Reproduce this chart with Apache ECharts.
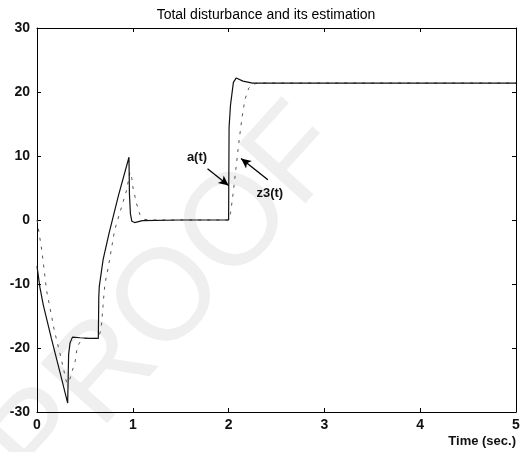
<!DOCTYPE html>
<html>
<head>
<meta charset="utf-8">
<script src="https://cdn.jsdelivr.net/npm/echarts@6/dist/echarts.min.js"></script>
<style>
html,body{margin:0;padding:0;background:#fff;}
#chart{width:532px;height:452px;}
</style>
</head>
<body>
<div id="chart"></div>
<script>
// ---- data ----
var titleText = 'Total disturbance and its estimation';
var xTicks = [0, 1, 2, 3, 4, 5];
var yTicks = [-30, -20, -10, 0, 10, 20, 30];

// a(t): solid line (time, value)
var aTime  = [0, 0.03, 0.066, 0.15, 0.25, 0.32, 0.325, 0.33, 0.345, 0.37, 0.45, 0.55, 0.64, 0.645, 0.65, 0.69, 0.75, 0.85, 0.96, 0.965, 0.975, 0.99, 1.02, 1.1, 1.5, 2.0, 2.005, 2.02, 2.05, 2.08, 2.15, 2.25, 5];
var aValue = [-7.2, -10.5, -13.3, -18.5, -24.4, -28.6, -25, -21, -19.2, -18.3, -18.4, -18.5, -18.5, -12, -10.4, -6.2, -2.2, 3.8, 9.8, 4, 1, -0.2, -0.4, -0.1, 0, 0, 14.5, 18, 21.5, 22.2, 21.7, 21.4, 21.4];

// z3(t): dashed estimate (time, value)
var zTime  = [0, 0.05, 0.1, 0.18, 0.25, 0.31, 0.34, 0.36, 0.40, 0.42, 0.46, 0.5, 0.64, 0.66, 0.675, 0.686, 0.7, 0.71, 0.744, 0.81, 0.9, 0.936, 0.97, 0.99, 1.0, 1.04, 1.075, 1.12, 1.2, 2.0, 2.02, 2.05, 2.08, 2.11, 2.14, 2.17, 2.21, 2.26, 2.3, 5];
var zValue = [0, -4.7, -11, -17.2, -21.5, -25.5, -25, -24, -22, -19.8, -18.8, -18.5, -18.5, -17.5, -16.1, -14, -11.4, -9.9, -7.4, -1.6, 2.9, 4.7, 7.5, 6.5, 5.2, 2.5, 0.8, 0.1, 0, 0, 1, 4.5, 8.5, 12.5, 16, 18.8, 20.6, 21.2, 21.4, 21.4];

// annotations: [label, text position (t,v), arrow tail (t,v), arrow tip (t,v)]
var annLabels = ['a(t)', 'z3(t)'];
var annText   = [[1.67, 9.8], [2.43, 4.2]];
var annTail   = [[1.78, 8.0], [2.41, 6.3]];
var annTip    = [[2.0, 5.4], [2.13, 9.6]];

var watermark = 'PROOF';

function pairs(xs, ys){ return xs.map(function(x,i){ return [x, ys[i]]; }); }

var chart = echarts.init(document.getElementById('chart'), null, {renderer:'canvas'});
var FONT = 'Liberation Sans';

var axisCommon = {
  type: 'value',
  axisLine: {show: true, onZero: false, lineStyle: {color: '#000', width: 1}},
  axisTick: {show: true, inside: true, length: 4, lineStyle: {color: '#000'}},
  splitLine: {show: false}
};

var option = {
  backgroundColor: '#fff',
  animation: false,
  title: {
    text: titleText, left: 'center', top: 3,
    textStyle: {fontFamily: FONT, fontSize: 14, fontWeight: 'normal', color: '#000'}
  },
  grid: {left: 37, right: 16, top: 28, bottom: 40, containLabel: false},
  graphic: [
    {
      type: 'text', z: -10, silent: true,
      x: 170, y: 300, rotation: 48 * Math.PI / 180,
      style: {text: watermark, font: '130px "Liberation Sans"', fill: '#efefef',
              textAlign: 'center', textVerticalAlign: 'middle'}
    },
    {
      type: 'text', right: 16, top: 435,
      style: {text: 'Time (sec.)', font: 'bold 13px "Liberation Sans"', fill: '#111'}
    }
  ],
  xAxis: [
    Object.assign({}, axisCommon, {
      position: 'bottom', min: xTicks[0], max: xTicks[xTicks.length-1], interval: 1,
      axisLabel: {show: true, margin: 6, fontFamily: FONT, fontSize: 14, fontWeight: 'bold', color: '#111'}
    }),
    Object.assign({}, axisCommon, {
      position: 'top', min: xTicks[0], max: xTicks[xTicks.length-1], interval: 1,
      axisLabel: {show: false}
    })
  ],
  yAxis: [
    Object.assign({}, axisCommon, {
      position: 'left', min: yTicks[0], max: yTicks[yTicks.length-1], interval: 10,
      axisLabel: {show: true, margin: 7, fontFamily: FONT, fontSize: 14, fontWeight: 'bold', color: '#111'}
    }),
    Object.assign({}, axisCommon, {
      position: 'right', min: yTicks[0], max: yTicks[yTicks.length-1], interval: 10,
      axisLabel: {show: false}
    })
  ],
  series: [
    {
      name: 'z3(t)', type: 'line', data: pairs(zTime, zValue),
      showSymbol: false, symbol: 'none',
      lineStyle: {color: '#555', width: 1, type: [3, 6]},
      z: 2
    },
    {
      name: 'a(t)', type: 'line', data: pairs(aTime, aValue),
      showSymbol: false, symbol: 'none',
      lineStyle: {color: '#111', width: 1.2},
      z: 3,
      markLine: {
        silent: true, symbol: ['none', 'arrow'], symbolSize: [7, 10],
        lineStyle: {color: '#000', width: 1.3, type: 'solid'},
        label: {show: false},
        data: annTail.map(function(p, i){ return [{coord: p}, {coord: annTip[i]}]; })
      },
      markPoint: {
        silent: true, symbol: 'circle', symbolSize: 0,
        label: {show: true, position: 'inside', fontFamily: FONT, fontSize: 13, fontWeight: 'bold', color: '#111',
                formatter: function(p){ return p.name; }},
        data: annLabels.map(function(l, i){ return {name: l, coord: annText[i]}; })
      }
    }
  ]
};
chart.setOption(option);
</script>
</body>
</html>
